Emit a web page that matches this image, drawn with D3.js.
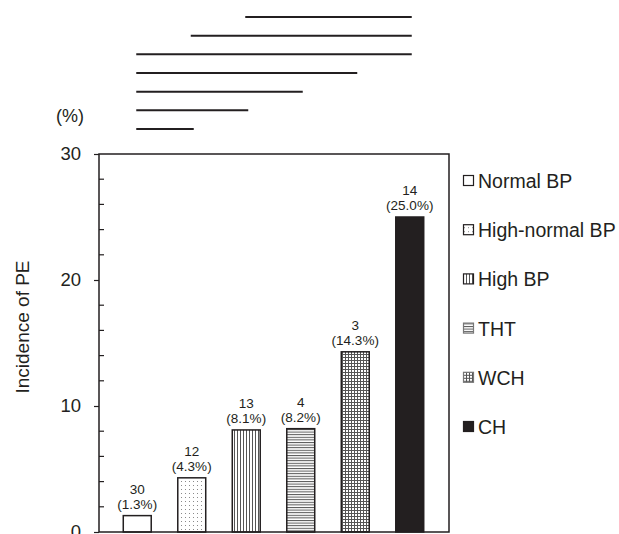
<!DOCTYPE html>
<html>
<head>
<meta charset="utf-8">
<script src="https://cdn.jsdelivr.net/npm/d3@7"></script>
<style>
  body { margin: 0; background: #fff; }
  svg { display: block; font-family: "Liberation Sans", Arial, sans-serif; }
</style>
</head>
<body>
<div id="chart"></div>
<script>
// groups, incidence (%) and number of PE cases
const groups = ['Normal BP', 'High-normal BP', 'High BP', 'THT', 'WCH', 'CH'];
const incidence = [1.3, 4.3, 8.1, 8.2, 14.3, 25.0];
const cases = [30, 12, 13, 4, 3, 14];
const patterns = ['none', 'dots', 'vlines', 'hlines', 'grid', 'solid'];
const yTicks = [0, 10, 20, 30];
// comparison lines, top to bottom: [from group, to group]
const comparisons = [[2, 5], [1, 5], [0, 5], [0, 4], [0, 3], [0, 2], [0, 1]];

const w = 619, h = 534;
const ink = '#231f20';
const svg = d3.select('#chart').append('svg').attr('width', w).attr('height', h);

const pLeft = 99, pRight = 449, pTop = 154, pBottom = 532;

const x = d3.scaleBand().domain(groups).range([110, 437])
  .paddingInner(0.487).paddingOuter(0.2435);
const y = d3.scaleLinear().domain([0, 30]).range([pBottom, pTop]);

// fill patterns
const defs = svg.append('defs');
const pDots = defs.append('pattern').attr('id', 'dots').attr('patternUnits', 'userSpaceOnUse')
  .attr('width', 4).attr('height', 4);
pDots.append('rect').attr('x', 1).attr('y', 1).attr('width', 1).attr('height', 1).attr('fill', '#8a8a8a');
const pV = defs.append('pattern').attr('id', 'vlines').attr('patternUnits', 'userSpaceOnUse')
  .attr('width', 3).attr('height', 3);
pV.append('rect').attr('x', 0).attr('y', 0).attr('width', 1).attr('height', 3).attr('fill', '#555');
const pH = defs.append('pattern').attr('id', 'hlines').attr('patternUnits', 'userSpaceOnUse')
  .attr('width', 3).attr('height', 2.6);
pH.append('rect').attr('x', 0).attr('y', 0).attr('width', 3).attr('height', 1).attr('fill', '#555');
const pG = defs.append('pattern').attr('id', 'grid').attr('patternUnits', 'userSpaceOnUse')
  .attr('width', 3).attr('height', 3);
pG.append('rect').attr('x', 0).attr('y', 0).attr('width', 1).attr('height', 3).attr('fill', '#555');
pG.append('rect').attr('x', 0).attr('y', 0).attr('width', 3).attr('height', 1).attr('fill', '#555');

const fillOf = function(p) {
  if (p === 'none') return '#fff';
  if (p === 'solid') return ink;
  return 'url(#' + p + ')';
};

// bars
const data = groups.map((g, i) => ({ g: g, v: incidence[i], n: cases[i], p: patterns[i] }));
svg.selectAll('.bar').data(data).enter().append('rect')
  .attr('class', 'bar')
  .attr('x', d => x(d.g))
  .attr('y', d => y(d.v))
  .attr('width', x.bandwidth())
  .attr('height', d => y(0) - y(d.v))
  .attr('fill', d => fillOf(d.p))
  .attr('stroke', ink)
  .attr('stroke-width', 1.5);

// bar labels
const lab = svg.selectAll('.lab').data(data).enter().append('text')
  .attr('class', 'lab')
  .attr('text-anchor', 'middle')
  .attr('font-size', 13.5)
  .attr('fill', ink);
lab.append('tspan')
  .attr('x', d => x(d.g) + x.bandwidth() / 2)
  .attr('y', d => y(d.v) - 22)
  .text(d => d.n);
lab.append('tspan')
  .attr('x', d => x(d.g) + x.bandwidth() / 2)
  .attr('y', d => y(d.v) - 7)
  .text(d => '(' + d.v.toFixed(1) + '%)');

// frame
svg.append('path')
  .attr('d', `M${pLeft},${pTop}H${pRight}V${pBottom}H${pLeft}Z`)
  .attr('fill', 'none').attr('stroke', ink).attr('stroke-width', 1.5);

// y axis: major ticks outside, minor ticks inside
const yAxis = svg.append('g').attr('transform', `translate(${pLeft},0)`)
  .call(d3.axisLeft(y).tickValues(yTicks).tickSize(5).tickPadding(13).tickFormat(d3.format('d')));
yAxis.select('.domain').remove();
yAxis.selectAll('line').attr('stroke', ink).attr('stroke-width', 1.2);
yAxis.selectAll('text').attr('font-size', 18.5).attr('fill', ink)
  .attr('font-family', '"Liberation Sans", Arial, sans-serif');

const minor = d3.range(0, 31, 2).filter(v => v % 10 !== 0);
svg.selectAll('.minor').data(minor).enter().append('line')
  .attr('x1', pLeft).attr('x2', pLeft + 5)
  .attr('y1', d => y(d)).attr('y2', d => y(d))
  .attr('stroke', ink).attr('stroke-width', 1.2);

svg.append('text').attr('x', 70).attr('y', 122).attr('text-anchor', 'middle')
  .attr('font-size', 18).attr('fill', ink).text('(%)');

svg.append('text')
  .attr('transform', `translate(29,327) rotate(-90)`)
  .attr('text-anchor', 'middle')
  .attr('font-size', 19).attr('fill', ink)
  .text('Incidence of PE');

// comparison lines
const cx = g => x(g) + x.bandwidth() / 2;
const ly = d3.scaleLinear().domain([0, comparisons.length - 1]).range([17, 129]);
svg.selectAll('.cmp').data(comparisons).enter().append('line')
  .attr('x1', d => cx(groups[d[0]]) - 1)
  .attr('x2', d => cx(groups[d[1]]) + 2)
  .attr('y1', (d, i) => ly(i)).attr('y2', (d, i) => ly(i))
  .attr('stroke', ink).attr('stroke-width', 2);

// legend
const ley = d3.scalePoint().domain(groups).range([181, 427]);
const leg = svg.selectAll('.leg').data(data).enter().append('g')
  .attr('transform', d => `translate(463,${ley(d.g)})`);
leg.append('rect')
  .attr('x', 0.5).attr('y', -5.5).attr('width', 10).attr('height', 10)
  .attr('fill', d => fillOf(d.p))
  .attr('stroke', d => d.p === 'hlines' || d.p === 'grid' ? '#777' : ink)
  .attr('stroke-width', 1.2);
leg.append('text')
  .attr('x', 15).attr('y', 7)
  .attr('font-size', 19.5).attr('fill', ink)
  .text(d => d.g);
</script>
</body>
</html>
